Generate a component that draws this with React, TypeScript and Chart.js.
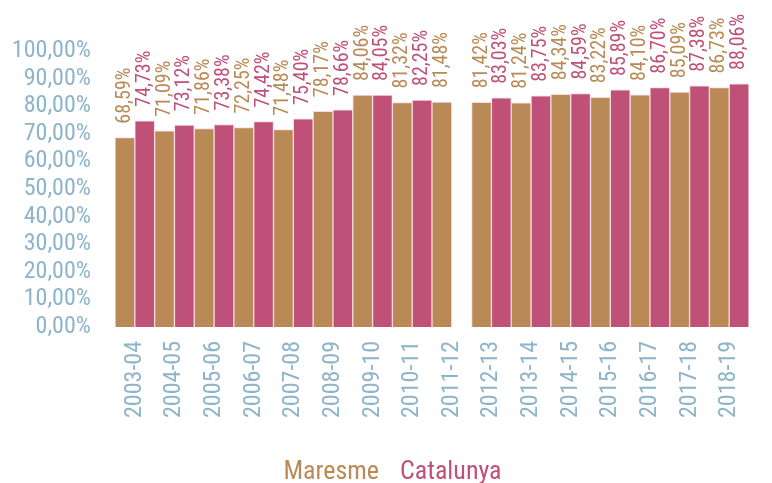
import React, { useEffect, useRef } from "react";
import { Chart, registerables } from "chart.js";

Chart.register(...registerables);

const categories = [
  "2003-04", "2004-05", "2005-06", "2006-07", "2007-08", "2008-09", "2009-10", "2010-11",
  "2011-12", "2012-13", "2013-14", "2014-15", "2015-16", "2016-17", "2017-18", "2018-19",
];
const maresme = [68.59, 71.09, 71.86, 72.25, 71.48, 78.17, 84.06, 81.32, 81.48, 81.42, 81.24, 84.34, 83.22, 84.1, 85.09, 86.73];
const catalunya = [74.73, 73.12, 73.38, 74.42, 75.4, 78.66, 84.05, 82.25, null, 83.03, 83.75, 84.59, 85.89, 86.7, 87.38, 88.06];
const yTicks = [0, 10, 20, 30, 40, 50, 60, 70, 80, 90, 100];

const FONT = "'Liberation Sans Narrow', 'Roboto Condensed', 'Arial Narrow', 'Liberation Sans', sans-serif";
const MARESME_COLOR = "#B98A55";
const CATALUNYA_COLOR = "#BF5077";
const TICK_COLOR = "#8DB4CB";

const fmt = (v: number) => v.toFixed(2).replace(".", ",") + "%";

const labelPlugin = {
  id: "valueLabels",
  afterDatasetsDraw(chart: any) {
    const ctx = chart.ctx;
    ctx.save();
    ctx.font = `20px ${FONT}`;
    ctx.textBaseline = "middle";
    ctx.textAlign = "left";
    chart.data.datasets.forEach((ds: any, di: number) => {
      const meta = chart.getDatasetMeta(di);
      meta.data.forEach((bar: any, i: number) => {
        const v = ds.data[i];
        if (v == null) return;
        ctx.save();
        ctx.translate(bar.x, bar.y - 14);
        ctx.rotate(-Math.PI / 2);
        ctx.fillStyle = ds.backgroundColor;
        ctx.fillText(fmt(v), 0, 0);
        ctx.restore();
      });
    });
    ctx.restore();
  },
};

export default function App() {
  const ref = useRef<HTMLCanvasElement>(null);
  useEffect(() => {
    document.body.style.margin = "0";
    const chart = new Chart(ref.current!, {
      type: "bar",
      data: {
        labels: categories,
        datasets: [
          {
            label: "Maresme",
            data: maresme,
            backgroundColor: MARESME_COLOR,
            borderColor: "rgba(245,215,222,0.9)",
            borderWidth: 1,
            categoryPercentage: 1,
            barPercentage: 1,
          },
          {
            label: "Catalunya",
            data: catalunya,
            backgroundColor: CATALUNYA_COLOR,
            borderColor: "rgba(245,215,222,0.9)",
            borderWidth: 1,
            categoryPercentage: 1,
            barPercentage: 1,
          },
        ],
      },
      options: {
        animation: false,
        responsive: false,
        maintainAspectRatio: false,
        layout: { padding: { top: 51, left: 0, right: 0, bottom: -12 } },
        scales: {
          x: {
            grid: { display: false, drawTicks: false },
            border: { display: false },
            afterFit: (axis: any) => {
              axis.height = axis.height + 19;
            },
            ticks: {
              color: TICK_COLOR,
              font: { family: FONT, size: 24 },
              maxRotation: 90,
              minRotation: 90,
              autoSkip: false,
              padding: 14,
            },
          },
          y: {
            min: 0,
            max: 100,
            grid: { display: false, drawTicks: false },
            border: { display: false },
            afterBuildTicks: (axis: any) => {
              axis.ticks = yTicks.map((v) => ({ value: v }));
            },
            afterFit: (axis: any) => {
              axis.width = 115;
            },
            ticks: {
              color: TICK_COLOR,
              font: { family: FONT, size: 24 },
              padding: 24,
              autoSkip: false,
              callback: (v: any) => fmt(Number(v)),
            },
          },
        },
        plugins: {
          tooltip: { enabled: false },
          legend: {
            position: "bottom",
            labels: {
              font: { family: FONT, size: 26 },
              boxWidth: 0,
              boxHeight: 0,
              padding: 8,
              generateLabels: (chart: any) =>
                chart.data.datasets.map((ds: any, i: number) => ({
                  text: ds.label,
                  fillStyle: "rgba(0,0,0,0)",
                  strokeStyle: "rgba(0,0,0,0)",
                  lineWidth: 0,
                  fontColor: ds.backgroundColor,
                  hidden: false,
                  datasetIndex: i,
                })),
            },
          },
        },
      },
      plugins: [labelPlugin],
    });
    return () => chart.destroy();
  }, []);
  return (
    <div style={{ width: 772, height: 483 }}>
      <canvas ref={ref} width={772} height={483} />
    </div>
  );
}
